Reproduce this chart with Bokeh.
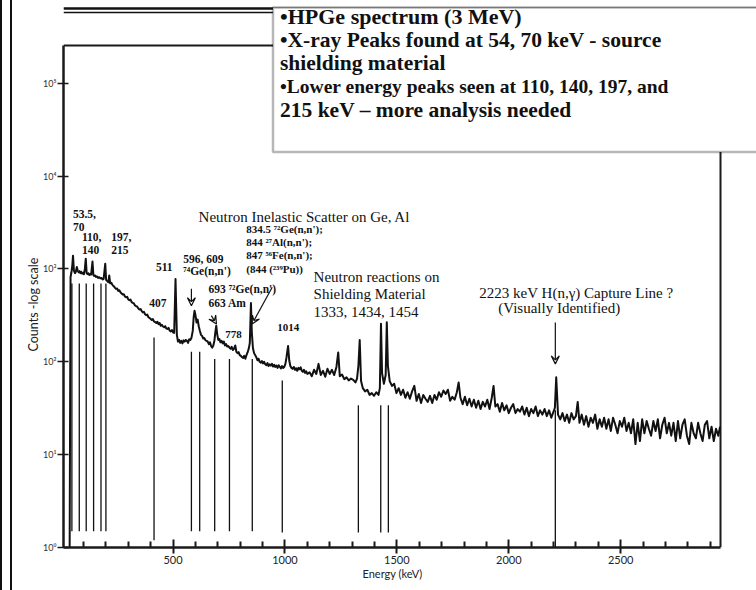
import math
from bokeh.plotting import figure
from bokeh.layouts import row
from bokeh.models import (ColumnDataSource, Label, Arrow, VeeHead, BoxAnnotation, Div, Title,
                          FixedTicker, CustomJSTickFormatter, Range1d)
from bokeh.embed import file_html
from bokeh.resources import INLINE

# ---------------- data ----------------
energy_kev = [
    38, 42, 46, 50, 53, 57, 62, 66, 70, 74,
    78, 82, 86, 90, 94, 98, 102, 106, 110, 114,
    118, 122, 126, 130, 134, 140, 144, 148, 152, 156,
    160, 165, 170, 175, 180, 185, 190, 197, 201, 206,
    211, 215, 219, 224, 228, 232, 236, 240, 245, 250,
    255, 260, 265, 270, 275, 280, 285, 290, 295, 300,
    305, 310, 315, 320, 325, 330, 335, 340, 345, 350,
    355, 360, 365, 370, 375, 380, 385, 390, 395, 400,
    405, 410, 415, 420, 425, 430, 435, 440, 445, 450,
    455, 460, 465, 470, 475, 480, 485, 490, 495, 500,
    505, 511, 517, 522, 527, 532, 537, 542, 547, 552,
    557, 562, 567, 572, 577, 582, 588, 592, 596, 600,
    605, 610, 615, 620, 625, 630, 635, 640, 645, 650,
    655, 660, 665, 670, 675, 680, 685, 689, 693, 697,
    702, 707, 712, 717, 722, 727, 732, 737, 742, 747,
    752, 757, 762, 767, 772, 778, 783, 788, 793, 798,
    803, 808, 813, 818, 823, 828, 833, 838, 843, 848,
    852, 857, 862, 867, 872, 877, 882, 887, 892, 897,
    902, 907, 912, 917, 922, 927, 932, 937, 942, 947,
    952, 957, 962, 967, 972, 977, 982, 987, 992, 997,
    1002, 1007, 1014, 1019, 1024, 1029, 1034, 1040, 1045, 1050,
    1055, 1060, 1065, 1070, 1075, 1080, 1085, 1090, 1095, 1100,
    1110, 1120, 1130, 1140, 1150, 1160, 1170, 1180, 1190, 1200,
    1210, 1220, 1230, 1238, 1245, 1255, 1265, 1275, 1285, 1295,
    1305, 1315, 1322, 1328, 1334, 1340, 1348, 1358, 1368, 1378,
    1388, 1398, 1408, 1418, 1424, 1429, 1434, 1442, 1450, 1455,
    1460, 1468, 1478, 1488, 1498, 1508, 1518, 1528, 1538, 1548,
    1558, 1568, 1578, 1588, 1598, 1608, 1618, 1628, 1638, 1648,
    1658, 1668, 1678, 1688, 1698, 1708, 1718, 1728, 1738, 1748,
    1758, 1768, 1776, 1784, 1794, 1804, 1814, 1824, 1834, 1844,
    1854, 1864, 1874, 1884, 1894, 1904, 1914, 1924, 1932, 1940,
    1950, 1960, 1970, 1980, 1990, 2000, 2010, 2020, 2030, 2040,
    2050, 2060, 2070, 2080, 2090, 2100, 2110, 2120, 2130, 2140,
    2150, 2160, 2170, 2180, 2190, 2200, 2206, 2212, 2220, 2230,
    2240, 2250, 2260, 2270, 2280, 2290, 2300, 2308, 2316, 2326,
    2336, 2346, 2356, 2366, 2376, 2386, 2396, 2406, 2416, 2426,
    2436, 2446, 2456, 2466, 2476, 2486, 2496, 2506, 2516, 2526,
    2536, 2546, 2556, 2566, 2576, 2586, 2596, 2606, 2616, 2626,
    2636, 2646, 2656, 2666, 2676, 2686, 2696, 2706, 2716, 2726,
    2736, 2746, 2756, 2766, 2776, 2786, 2796, 2806, 2816, 2826,
    2836, 2846, 2856, 2866, 2876, 2886, 2896, 2906, 2916, 2926,
    2936, 2944,
]

counts = [
    1, 820, 920, 1100, 1390, 960, 900, 940, 1050, 960,
    920, 950, 900, 930, 890, 910, 880, 1000, 1290, 900,
    880, 900, 860, 880, 870, 1200, 860, 840, 850, 820,
    830, 800, 815, 790, 800, 770, 780, 1140, 760, 740,
    720, 850, 700, 710, 680, 660, 650, 630, 610, 615,
    580, 590, 560, 545, 530, 535, 505, 495, 500, 470,
    460, 468, 440, 432, 425, 405, 398, 392, 375, 365,
    370, 352, 340, 345, 325, 318, 322, 302, 296, 290,
    282, 288, 272, 268, 262, 270, 254, 262, 244, 250,
    240, 236, 242, 228, 226, 232, 216, 212, 220, 208,
    205, 780, 195, 165, 172, 160, 168, 158, 170, 165,
    172, 168, 160, 175, 172, 180, 215, 300, 355, 320,
    265, 285, 240, 215, 195, 190, 178, 180, 170, 168,
    165, 155, 162, 148, 142, 150, 170, 210, 245, 200,
    172, 176, 162, 168, 158, 165, 150, 155, 146, 148,
    142, 138, 145, 134, 138, 150, 128, 124, 127, 118,
    116, 112, 110, 116, 108, 118, 126, 138, 160, 430,
    205, 140, 124, 118, 112, 104, 108, 100, 98, 102,
    96, 100, 94, 92, 97, 90, 94, 91, 95, 89,
    93, 88, 91, 86, 92, 88, 85, 90, 86, 88,
    95, 112, 148, 104, 90, 86, 84, 88, 82, 85,
    80, 86, 83, 87, 80, 78, 82, 76, 79, 74,
    77, 70, 82, 74, 95, 72, 80, 69, 84, 74,
    82, 72, 88, 126, 70, 73, 65, 68, 63, 66,
    64, 60, 66, 90, 172, 62, 52, 48, 50, 44,
    46, 43, 47, 44, 52, 257, 75, 58, 72, 266,
    90, 62, 55, 58, 46, 52, 44, 50, 41, 47,
    40, 48, 55, 38, 45, 36, 44, 40, 37, 43,
    36, 44, 39, 47, 42, 49, 45, 50, 38, 42,
    39, 47, 60, 41, 35, 42, 34, 40, 33, 39,
    32, 38, 31, 37, 33, 39, 31, 41, 55, 33,
    35, 29, 36, 30, 34, 28, 32, 35, 28, 31,
    29, 33, 27, 32, 26, 31, 28, 33, 26, 30,
    27, 31, 26, 30, 25, 29, 32, 68, 27, 24,
    28, 23, 27, 22, 28, 24, 26, 37, 22, 27,
    21, 26, 20, 25, 22, 27, 19, 24, 20, 25,
    19, 24, 18, 25, 21, 17, 23, 20, 25, 18,
    22, 17, 24, 13, 22, 14, 24, 17, 23, 19,
    16, 23, 18, 24, 15, 21, 25, 17, 22, 16,
    22, 14, 23, 15, 21, 24, 16, 13, 22, 17,
    15, 22, 17, 14, 21, 23, 15, 20, 14, 19,
    16, 20,
]

# vertical identification lines (keV, top count, bottom count)
marker_kev = [48, 81, 112, 145, 178, 200, 415, 582, 619, 686, 752, 854, 988, 1328, 1428, 1462, 2208]
marker_top = [695, 695, 695, 695, 695, 695, 183, 128, 128, 107, 107, 107, 63, 34, 34, 34, 30]
marker_bottom = [1.5, 1.5, 1.5, 1.5, 1.5, 1.5, 1.2, 1.5, 1.5, 1.5, 1.5, 1.5, 1.45, 1.45, 1.45, 1.45, 1.0]

# arrows (start keV, start count, end keV, end count)
arrow_x0 = [582, 671, 943, 2208]
arrow_y0 = [613, 314, 634, 265]
arrow_x1 = [582, 694, 853, 2208]
arrow_y1 = [402, 255, 255, 95]

# axes
X_MIN, X_MAX = 10.5, 2946          # energy axis extent (keV)
Y_MIN, Y_MAX = 1, 2.55e5           # counts axis extent
x_major_ticks = [500, 1000, 1500, 2000, 2500]
x_minor_ticks = [100, 200, 300, 400, 600, 700, 800, 900, 1100, 1200, 1300, 1400,
                 1600, 1700, 1800, 1900, 2100, 2200, 2300, 2400, 2600, 2700, 2800, 2900]
y_ticks = [1, 10, 100, 1000, 10000, 100000]
x_title = "Energy (keV)"
y_title = "Counts -log scale"

# annotation texts: (text, keV, count, font size, weight)
annotations = [
    ("53.5,", 52.5, 3955, "11.5px", "bold"),
    ("70", 52.5, 2810, "11.5px", "bold"),
    ("110,", 92.7, 2220, "11.5px", "bold"),
    ("140", 92.7, 1608, "11.5px", "bold"),
    ("197,", 223.7, 2220, "11.5px", "bold"),
    ("215", 223.7, 1608, "11.5px", "bold"),
    ("511", 423.5, 1055, "11.5px", "bold"),
    ("596, 609", 545.5, 1286, "11.5px", "bold"),
    ("\u2077\u2074Ge(n,n')", 545.5, 939, "11.5px", "bold"),
    ("407", 393.5, 425, "11.5px", "bold"),
    ("693 \u2077\u00b2Ge(n,n')", 658.5, 607, "11.5px", "bold"),
    ("663 Am", 658.5, 425, "11.5px", "bold"),
    ("778", 733, 195, "11px", "bold"),
    ("1014", 965.6, 234, "11px", "bold"),
    ("Neutron Inelastic Scatter on Ge, Al", 614, 3643, "15px", "normal"),
    ("834.5 \u2077\u00b2Ge(n,n');", 827, 2706, "11px", "bold"),
    ("844 \u00b2\u2077Al(n,n');", 827, 1961, "11px", "bold"),
    ("847 \u2075\u2076Fe(n,n');", 827, 1410, "11px", "bold"),
    ("(844 (\u00b2\u00b3\u2079Pu))", 827, 1011, "11px", "bold"),
    ("Neutron reactions on", 1128, 823, "15px", "normal"),
    ("Shielding Material", 1128, 536, "15px", "normal"),
    ("1333, 1434,  1454", 1128, 340, "15px", "normal"),
    ("2223 keV H(n,\u03b3) Capture Line ?", 1868.5, 557, "15px", "normal"),
    ("(Visually Identified)", 1953, 379, "15px", "normal"),
]

box_lines = [
    "\u2022HPGe spectrum (3 MeV)",
    "\u2022X-ray Peaks found at 54, 70 keV - source",
    "shielding material",
    "\u2022Lower energy peaks seen at 110, 140, 197, and",
    "215 keV \u2013 more analysis needed",
]
box_line_sizes = ["22px", "21.5px", "21.5px", "19.5px", "21.5px"]

# ---------------- page layout (pixels) ----------------
PAGE_W, PAGE_H = 756, 590
EDGE_W = 12                             # slide edge strip on the left
FRAME_L, FRAME_R, FRAME_T, FRAME_B = 63, 720, 45, 547   # axes box on the page


def px2e(px):
    return X_MIN + (px - FRAME_L) * (X_MAX - X_MIN) / (FRAME_R - FRAME_L)


def py2c(py):
    lo, hi = math.log10(Y_MIN), math.log10(Y_MAX)
    return 10 ** (lo + (FRAME_B - py) * (hi - lo) / (FRAME_B - FRAME_T))


SERIF = "Liberation Serif"
SANS = "Lato"
INK = "#111111"
AXIS = "#1a1a1a"

p = figure(width=PAGE_W - EDGE_W, height=PAGE_H, output_backend="svg", toolbar_location=None,
           y_axis_type="log",
           x_range=Range1d(X_MIN, px2e(PAGE_W)), y_range=Range1d(Y_MIN, py2c(0)),
           min_border_left=FRAME_L - EDGE_W, min_border_right=0, min_border_top=0,
           min_border_bottom=PAGE_H - FRAME_B,
           background_fill_color="white", border_fill_color="white")
p.outline_line_color = None
p.xgrid.visible = False
p.ygrid.visible = False

# x axis
xa = p.xaxis[0]
xa.bounds = (X_MIN, X_MAX)
xa.ticker = FixedTicker(ticks=x_major_ticks, minor_ticks=x_minor_ticks)
xa.major_label_text_font = SANS
xa.major_label_text_font_size = "11px"
xa.major_label_text_color = "#222222"
xa.major_label_standoff = 2
xa.axis_line_width = 2.5
xa.axis_line_color = AXIS
xa.major_tick_in = 8
xa.major_tick_out = 6
xa.major_tick_line_width = 2
xa.major_tick_line_color = AXIS
xa.minor_tick_in = 6
xa.minor_tick_out = 0
xa.minor_tick_line_width = 2
xa.minor_tick_line_color = AXIS

# y axis
ya = p.yaxis[0]
ya.bounds = (Y_MIN, Y_MAX)
ya.ticker = FixedTicker(ticks=y_ticks, minor_ticks=[])
ya.formatter = CustomJSTickFormatter(code="""
const sup = {"0":"\u2070","1":"\u00b9","2":"\u00b2","3":"\u00b3","4":"\u2074","5":"\u2075"};
const e = Math.round(Math.log10(tick));
return "10" + String(e).split("").map(c => sup[c]).join("");
""")
ya.major_label_text_font = SANS
ya.major_label_text_font_size = "9px"
ya.major_label_text_color = "#333333"
ya.major_label_standoff = 1
ya.axis_line_width = 2.5
ya.axis_line_color = AXIS
ya.major_tick_in = 5
ya.major_tick_out = 6
ya.major_tick_line_width = 1.5
ya.major_tick_line_color = AXIS

# axis titles, placed along the axes box (offsets measured from the box's lower-left corner)
p.add_layout(Title(text=x_title, align="left", offset=299, standoff=0, vertical_align="top",
                   text_font=SANS, text_font_size="11px", text_font_style="normal",
                   text_color="#222222"), "below")
p.add_layout(Title(text=y_title, align="left", offset=196, standoff=0,
                   text_font=SANS, text_font_size="12.5px", text_font_style="normal",
                   text_color="#222222"), "left")

# slide top edge (double line) and the top/right edges of the axes box
p.hspan(y=[py2c(7.5)], line_color=INK, line_width=2.5)
p.hspan(y=[py2c(12)], line_color=INK, line_width=1.5)
p.segment(x0=[X_MIN, X_MAX], y0=[Y_MAX, Y_MIN], x1=[X_MAX, X_MAX], y1=[Y_MAX, Y_MAX],
          line_color=AXIS, line_width=2)

# identification lines
p.segment(x0=marker_kev, y0=marker_bottom, x1=marker_kev, y1=marker_top,
          line_color=INK, line_width=1.3)

# spectrum
p.line(energy_kev, counts, line_color=INK, line_width=2, line_join="round")

# arrows
arrow_src = ColumnDataSource(dict(x0=arrow_x0, y0=arrow_y0, x1=arrow_x1, y1=arrow_y1))
p.add_layout(Arrow(source=arrow_src, x_start="x0", y_start="y0", x_end="x1", y_end="y1",
                   line_color=INK, line_width=1.2,
                   end=VeeHead(size=8, line_color=INK, line_width=1.2, fill_color=None)))

# annotation texts
for txt, ex, cy, size, weight in annotations:
    p.add_layout(Label(x=ex, y=cy, text=txt, text_font=SERIF, text_font_size=size,
                       text_font_style=weight, text_color=INK,
                       text_baseline="middle", text_align="left"))

# text box
p.add_layout(BoxAnnotation(left=px2e(272.5), right=px2e(PAGE_W + 40), top=py2c(7),
                           bottom=py2c(151.5), fill_color="white", fill_alpha=1,
                           line_color=INK, line_width=2.5))
box_centers_px = [15.5, 39.0, 62.3, 85.7, 109.1]
for line_txt, cy_px, size in zip(box_lines, box_centers_px, box_line_sizes):
    p.add_layout(Label(x=px2e(279.5), y=py2c(cy_px), text=line_txt, text_font=SERIF,
                       text_font_size=size, text_font_style="bold", text_color=INK,
                       text_baseline="middle", text_align="left"))

# slide left edge (double line)
edge = Div(text="", width=EDGE_W, height=PAGE_H, margin=0,
           styles={"box-sizing": "border-box", "border-left": "2.5px solid #111111",
                   "border-right": "2px solid #111111", "background": "white"})

layout = row(edge, p, spacing=0)
open("out.html", "w").write(file_html(layout, INLINE))
